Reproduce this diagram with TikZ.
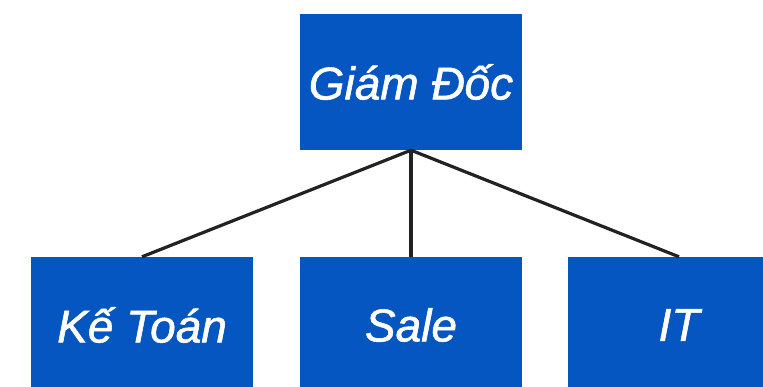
\documentclass[tikz,border=0pt]{standalone}
\usepackage{fontspec}
\setmainfont{Liberation Sans}
\newfontfamily\lblfont[FakeBold=1.2]{Liberation Sans}
\definecolor{boxblue}{HTML}{0556C0}
\definecolor{linegray}{HTML}{222222}
\begin{document}
\begin{tikzpicture}[x=1pt,y=-1pt,
  orgbox/.style={fill=boxblue,draw=none,minimum width=222pt,minimum height=136pt,inner sep=0pt,
    text=white,font=\lblfont\fontsize{46}{50}\selectfont\itshape},
  link/.style={draw=linegray,line width=3.2pt}]
\useasboundingbox (0,0) rectangle (763,386);
\node[orgbox] (gd) at (411,82) {\raisebox{-8pt}{Giám Đốc}};
\node[orgbox] (kt) at (142,325) {\raisebox{-8pt}{Kế Toán}};
\node[orgbox] (sale) at (411,325) {\raisebox{-8pt}{Sale}};
\node[orgbox] (it) at (679,325) {\raisebox{-8pt}{IT}};
\draw[link] (gd.south) -- (kt.north);
\draw[link] (gd.south) -- (sale.north);
\draw[link] (gd.south) -- (it.north);
\end{tikzpicture}
\end{document}
